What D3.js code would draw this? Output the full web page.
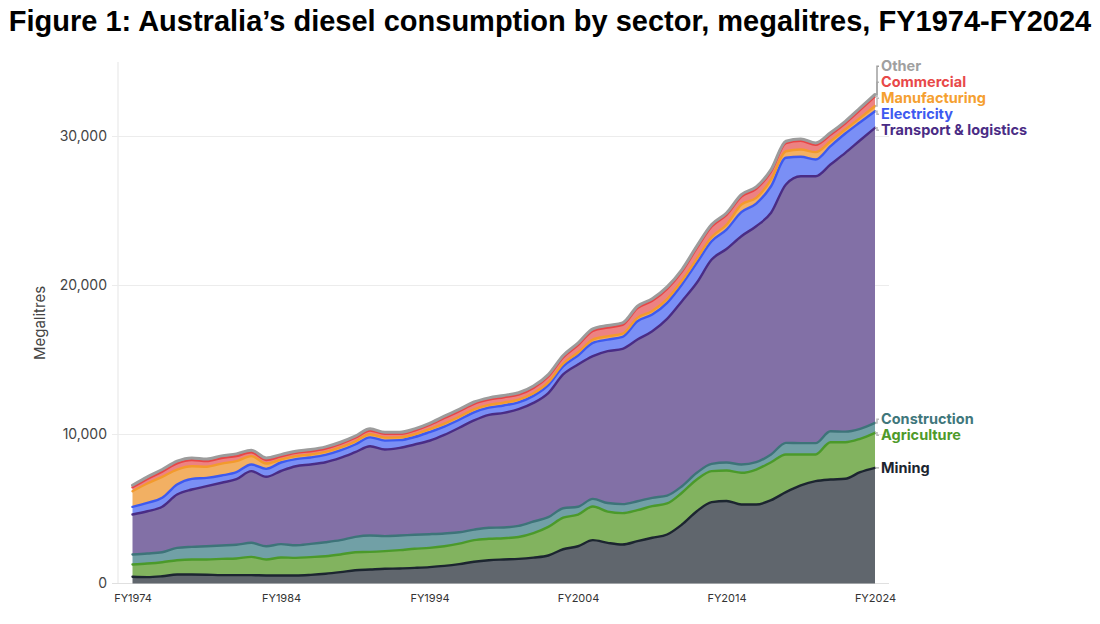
<!DOCTYPE html>
<html><head><meta charset="utf-8">
<script src="https://cdn.jsdelivr.net/npm/d3@7"></script>
<style>
body{margin:0;background:#fff;}
svg{display:block;font-family:Inter,"Noto Sans",sans-serif;}
</style>
</head><body>
<svg id="chart" width="1100" height="624"></svg>
<script>
// ---------- DATA (megalitres) ----------
const years = [1974,1975,1976,1977,1978,1979,1980,1981,1982,1983,1984,1985,1986,1987,1988,1989,1990,1991,1992,1993,1994,1995,1996,1997,1998,1999,2000,2001,2002,2003,2004,2005,2006,2007,2008,2009,2010,2011,2012,2013,2014,2015,2016,2017,2018,2019,2020,2021,2022,2023,2024];
const tickYears = [1974,1984,1994,2004,2014,2024];
const yTicks = [0,10000,20000,30000];

const mining = [450,430,490,600,600,590,560,560,560,540,540,540,580,650,760,890,940,990,1010,1050,1100,1180,1300,1460,1560,1610,1650,1740,1880,2300,2500,2910,2730,2620,2840,3070,3290,3960,4850,5460,5540,5300,5300,5590,6130,6580,6870,6980,7030,7470,7760];
const agriculture = [825,910,940,960,1010,1020,1090,1120,1230,1070,1210,1180,1190,1180,1190,1210,1180,1180,1230,1280,1290,1320,1380,1450,1440,1430,1470,1640,1920,2120,2120,2260,2090,2100,2080,2120,2080,2130,2130,2080,2040,2130,2350,2550,2530,2080,1790,2500,2450,2240,2350];
const construction = [675,670,670,830,850,890,900,920,940,890,890,850,890,940,960,1030,1100,1010,980,940,920,860,760,710,740,720,750,780,650,630,530,510,580,610,600,560,530,440,450,490,540,560,490,520,780,760,760,740,710,670,670];
const transport = [2680,2840,3050,3580,3850,4030,4210,4400,4810,4660,4910,5300,5330,5370,5520,5680,5990,5810,5880,6060,6270,6610,7010,7330,7580,7690,7830,7960,8330,8980,9550,9580,10190,10420,10850,11180,11860,12420,12750,13710,14330,15320,15840,16220,17340,17910,17910,17900,18710,19370,19800];
const electricity = [515,560,600,670,710,560,490,470,450,535,570,480,470,490,500,520,600,600,520,500,580,560,540,540,480,500,460,470,530,540,600,890,780,800,1230,1120,1080,1120,1340,1230,1300,1610,1520,1780,1790,1310,1130,1230,1300,1210,1120];
const manufacturing = [1050,1300,1410,1010,850,750,800,740,560,355,200,200,200,200,200,200,210,200,190,190,200,200,200,200,190,190,180,180,190,190,200,220,220,220,230,240,250,250,270,280,330,510,380,450,440,490,490,330,270,290,350];
const commercial = [260,310,350,410,410,370,370,345,260,240,210,220,220,230,240,250,250,250,230,250,280,380,370,370,350,360,340,360,400,420,500,590,590,590,650,690,690,620,720,710,660,540,610,540,540,580,490,440,420,540,640];
const other = [140,140,140,150,150,145,145,145,140,140,120,110,110,110,110,110,110,110,110,110,110,120,120,120,120,120,120,120,120,120,130,130,130,130,130,130,130,130,130,130,130,130,130,130,130,130,130,130,130,130,130];

const seriesNames = ["Mining","Agriculture","Construction","Transport & logistics","Electricity","Manufacturing","Commercial","Other"];
const seriesValues = [mining,agriculture,construction,transport,electricity,manufacturing,commercial,other];

// ---------- STYLE ----------
const fills   = ["#60666d","#82b35f","#71a0a6","#8270a6","#7a8ff5","#f2b063","#ed8282","#b3b3b3"];
const strokes = ["#1c2530","#4b9a2a","#3d7479","#4a2c85","#3d5af0","#f39a2c","#e84545","#9c9c9c"];
const labelColors = ["#1c2530","#4f9a2a","#3f777b","#4a2c85","#3d5af0","#f5a030","#e84848","#a0a0a0"];

const svg = d3.select("#chart");

// title
svg.append("text")
  .attr("x",550).attr("y",31)
  .attr("text-anchor","middle")
  .style("font-family","'Liberation Sans',Arial,sans-serif")
  .style("font-weight","700").style("font-size","29px").attr("fill","#000")
  .text("Figure 1: Australia\u2019s diesel consumption by sector, megalitres, FY1974-FY2024");

const x = d3.scaleLinear().domain([1974,2024]).range([132.5,875]);
const y = d3.scaleLinear().domain([0,30000]).range([583.5,136.5]);

// grid
const g = svg.append("g");
g.append("line").attr("x1",118).attr("x2",118).attr("y1",62).attr("y2",584)
  .attr("stroke","#e9e9e9").attr("stroke-width",1.2);
g.selectAll(".grid").data(yTicks).join("line")
  .attr("x1",112).attr("x2",889)
  .attr("y1",d=>y(d)).attr("y2",d=>y(d))
  .attr("stroke",d=>d===0?"#e0e0e0":"#ececec").attr("stroke-width",1.2);

// y axis labels via d3 axis
const yAxis = d3.axisLeft(y).tickValues(yTicks).tickFormat(d3.format(",")).tickSize(0).tickPadding(0);
const ya = svg.append("g").attr("transform","translate(107,0)").call(yAxis);
ya.select(".domain").remove();
ya.selectAll("text").style("font-family","Inter,sans-serif").style("font-size","14px").attr("fill","#444");

// x axis labels via d3 axis
const xAxis = d3.axisBottom(x).tickValues(tickYears).tickFormat(d=>"FY"+d).tickSize(0).tickPadding(0);
const xa = svg.append("g").attr("transform","translate(0,594)").call(xAxis);
xa.select(".domain").remove();
xa.selectAll("text").style("font-family","Inter,sans-serif").style("font-size","11px").attr("fill","#333");

// y title
svg.append("text").attr("transform","translate(45,323) rotate(-90)")
  .attr("text-anchor","middle").style("font-size","15px").attr("fill","#444")
  .text("Megalitres");

// stack
const table = years.map((yr,i)=>{
  const row = {year:yr};
  seriesNames.forEach((n,j)=>row[n]=seriesValues[j][i]);
  return row;
});
const stacked = d3.stack().keys(seriesNames)(table);

const area = d3.area().x(d=>x(d.data.year)).y0(d=>y(d[0])).y1(d=>y(d[1])).curve(d3.curveMonotoneX);
const line = d3.line().x(d=>x(d.data.year)).y(d=>y(d[1])).curve(d3.curveMonotoneX);

svg.append("g").selectAll("path").data(stacked).join("path")
  .attr("d",area).attr("fill",(d,i)=>fills[i]);
svg.append("g").selectAll("path").data(stacked).join("path")
  .attr("d",line).attr("fill","none").attr("stroke",(d,i)=>strokes[i])
  .attr("stroke-width",(d,i)=>i===7?3:2.4).attr("stroke-linejoin","round").attr("stroke-linecap","round");

// end labels with dodge
const last = stacked.map((s,i)=>({i, name:seriesNames[i], ty:y(s[s.length-1][1])}));
const gap = 16;
const sorted = last.slice().sort((a,b)=>a.ty-b.ty);
let clusters = sorted.map(d=>({items:[d]}));
function place(c){
  const mean = d3.mean(c.items,d=>d.ty);
  let top = mean - gap*(c.items.length-1)/2;
  const bottomDesired = c.items[c.items.length-1].ty;
  const bottom = top + gap*(c.items.length-1);
  if (bottom > bottomDesired + 2.5) top -= (bottom - bottomDesired - 2.5);
  c.top = top; c.bottom = top + gap*(c.items.length-1);
}
clusters.forEach(place);
let merged = true;
while(merged){
  merged = false;
  for(let k=1;k<clusters.length;k++){
    if(clusters[k].top - clusters[k-1].bottom < gap){
      clusters[k-1].items = clusters[k-1].items.concat(clusters[k].items);
      clusters.splice(k,1); place(clusters[k-1]); merged = true; break;
    }
  }
}
clusters.forEach(c=>c.items.forEach((d,k)=>d.ly=c.top+gap*k));

const lab = svg.append("g");
last.slice().sort((a,b)=>Math.abs(a.ly-a.ty)-Math.abs(b.ly-b.ty)).forEach(d=>{
  lab.append("path")
    .attr("d",`M875,${d.ty}H877V${d.ly}H879`)
    .attr("fill","none").attr("stroke",d.i===7?"#a0a0a0":"#bbb").attr("stroke-width",1.5);
});
lab.selectAll("text").data(last).join("text")
  .attr("x",881).attr("y",d=>d.ly).attr("dy","0.35em")
  .style("font-size","14.5px").style("font-weight","700")
  .attr("fill",d=>labelColors[d.i]).text(d=>d.name);
</script>
</body></html>
